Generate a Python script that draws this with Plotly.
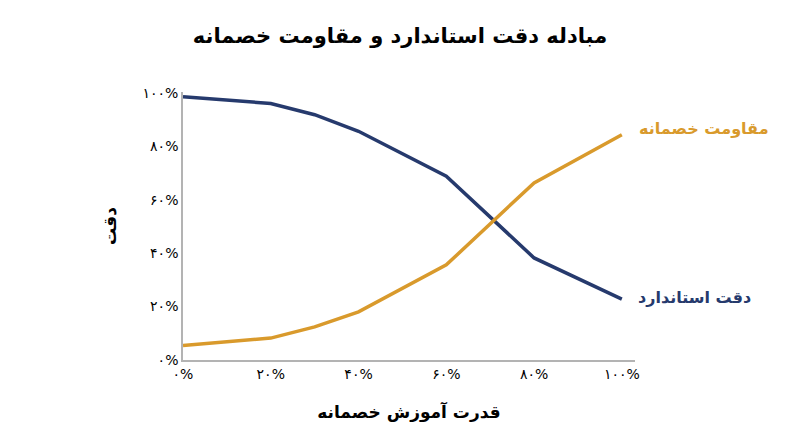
import plotly.graph_objects as go

# قدرت آموزش خصمانه (محور افقی)
strength = [0.0, 0.2, 0.3, 0.4, 0.6, 0.8, 1.0]
# دقت استاندارد
std_acc = [0.985, 0.960, 0.918, 0.856, 0.688, 0.382, 0.228]
# مقاومت خصمانه
adv_rob = [0.054, 0.082, 0.124, 0.180, 0.356, 0.663, 0.843]

tick_vals = [0.0, 0.2, 0.4, 0.6, 0.8, 1.0]
tick_text = ["۰%", "۲۰%", "۴۰%", "۶۰%", "۸۰%", "۱۰۰%"]

BLUE = "#263a6d"
ORANGE = "#d99a2c"
FONT = "DejaVu Sans"

fig = go.Figure()
fig.add_trace(go.Scatter(x=strength, y=std_acc, mode="lines",
                         line=dict(color=BLUE, width=3.5), name="دقت استاندارد"))
fig.add_trace(go.Scatter(x=strength, y=adv_rob, mode="lines",
                         line=dict(color=ORANGE, width=3.5), name="مقاومت خصمانه"))

# برچسب انتهای خطوط
fig.add_annotation(x=strength[-1], y=adv_rob[-1], text="<b>مقاومت خصمانه</b>",
                   xanchor="left", yanchor="middle", xshift=15, yshift=6, showarrow=False,
                   font=dict(family=FONT, size=16, color=ORANGE))
fig.add_annotation(x=strength[-1], y=std_acc[-1], text="<b>دقت استاندارد</b>",
                   xanchor="left", yanchor="middle", xshift=14, yshift=2, showarrow=False,
                   font=dict(family=FONT, size=16, color=BLUE))

# صفحه حاشیه ۸ پیکسلی پیش‌فرض دارد
fig.update_layout(
    width=784, height=431,
    margin=dict(l=175, r=157, t=84, b=79),
    paper_bgcolor="white", plot_bgcolor="white",
    showlegend=False,
    font=dict(family=FONT, color="black"),
    title=dict(text="<b>مبادله دقت استاندارد و مقاومت خصمانه</b>",
               x=0.5, xanchor="center", y=0.937, yanchor="middle",
               font=dict(family=FONT, size=21, color="black")),
)
fig.update_xaxes(range=[0, 1.03], tickvals=tick_vals, ticktext=tick_text,
                 showgrid=False, zeroline=False, showline=True,
                 linecolor="#b3b3b3", linewidth=1.5, ticks="", automargin=False,
                 tickfont=dict(family=FONT, size=14, color="black"),
                 title=dict(text="<b>قدرت آموزش خصمانه</b>", standoff=26,
                            font=dict(family=FONT, size=17, color="black")))
fig.update_yaxes(range=[0, 1.003], tickvals=tick_vals, ticktext=tick_text,
                 showgrid=False, zeroline=False, showline=True,
                 linecolor="#b3b3b3", linewidth=1.5, ticks="", automargin=False,
                 tickfont=dict(family=FONT, size=14, color="black"),
                 title=dict(text="<b>دقت</b>", standoff=22,
                            font=dict(family=FONT, size=17, color="black")))

fig.write_html("out.html")
